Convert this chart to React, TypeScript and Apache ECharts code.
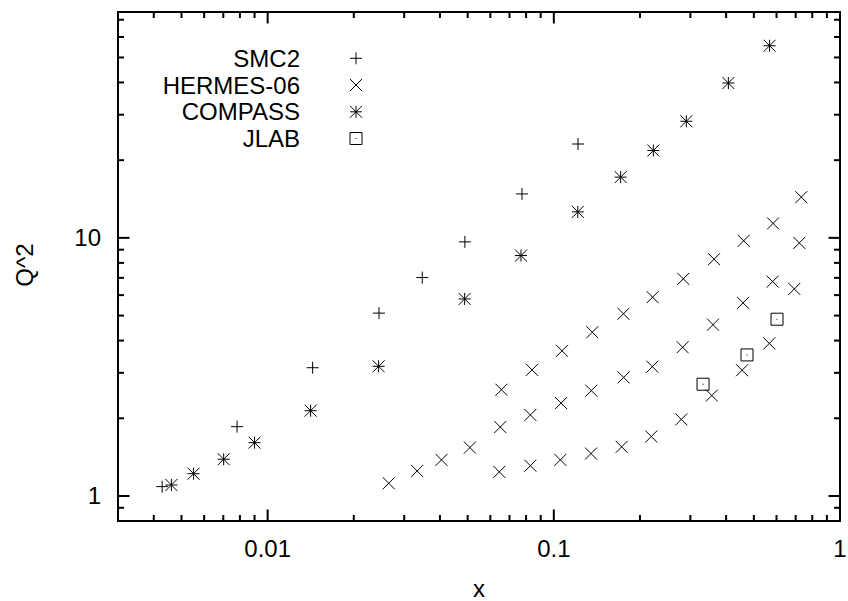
import React, { useEffect, useRef } from "react";
import * as echarts from "echarts";

// Kinematic coverage: (x, Q^2) of each data set
const smc2: [number, number][] = [
  [0.00428, 1.087], [0.00782, 1.856], [0.01436, 3.14], [0.0245, 5.11],
  [0.0347, 7.02], [0.0489, 9.65], [0.0774, 14.8], [0.1215, 23.1],
];

const hermes06: [number, number][] = [
  [0.0265, 1.12], [0.0333, 1.25], [0.0405, 1.38], [0.0509, 1.54],
  [0.0645, 1.24], [0.065, 1.85], [0.0656, 2.58],
  [0.0828, 1.31], [0.0828, 2.06], [0.0839, 3.08],
  [0.1054, 1.38], [0.106, 2.29], [0.1068, 3.65],
  [0.1349, 1.46], [0.1352, 2.56], [0.1363, 4.31],
  [0.1726, 1.55], [0.1754, 2.88], [0.1751, 5.08],
  [0.2191, 1.7], [0.2209, 3.17], [0.2214, 5.89],
  [0.2789, 1.98], [0.2818, 3.77], [0.2834, 6.94],
  [0.3565, 2.45], [0.36, 4.61], [0.3629, 8.27],
  [0.4547, 3.07], [0.4584, 5.6], [0.4606, 9.74],
  [0.5662, 3.9], [0.5817, 6.77], [0.5836, 11.38],
  [0.6923, 6.34], [0.7208, 9.56], [0.7325, 14.38],
];

const compass: [number, number][] = [
  [0.00461, 1.103], [0.00551, 1.22], [0.00702, 1.388], [0.009, 1.609],
  [0.01413, 2.14], [0.02442, 3.18], [0.0488, 5.8], [0.0768, 8.54],
  [0.1213, 12.61], [0.1712, 17.19], [0.2227, 21.8], [0.2904, 28.3],
  [0.4073, 39.8], [0.5675, 55.5],
];

const jlab: [number, number][] = [
  [0.3322, 2.71], [0.4732, 3.52], [0.6024, 4.84],
];

// Axis ranges and ticks
const xMin = 0.003;
const xMax = 1;
const yMin = 0.8;
const yMax = 75;
const xMajorTicks = [0.01, 0.1, 1];
const xMajorLabels = ["0.01", "0.1", "1"];
const xMinorTicks = [
  0.004, 0.005, 0.006, 0.007, 0.008, 0.009,
  0.02, 0.03, 0.04, 0.05, 0.06, 0.07, 0.08, 0.09,
  0.2, 0.3, 0.4, 0.5, 0.6, 0.7, 0.8, 0.9,
];
const yMajorTicks = [1, 10];
const yMajorLabels = ["1", "10"];
const yMinorTicks = [0.9, 2, 3, 4, 5, 6, 7, 8, 9, 20, 30, 40, 50, 60, 70];

const legendNames = ["SMC2", "HERMES-06", "COMPASS", "JLAB"];

const INK = "#000";
const FONT = '"Liberation Sans", Arial, Helvetica, sans-serif';
const MARK = 6;
const MAJOR_LEN = 11.5;
const MINOR_LEN = 6;

type Kind = "plus" | "cross" | "star" | "box";

const seg = (x1: number, y1: number, x2: number, y2: number, w = 1) => ({
  type: "line",
  shape: { x1, y1, x2, y2 },
  style: { stroke: INK, lineWidth: w },
});

const glyph = (kind: Kind, x: number, y: number, h: number): any[] => {
  const plus = [seg(x - h, y, x + h, y), seg(x, y - h, x, y + h)];
  const cross = [seg(x - h, y - h, x + h, y + h), seg(x - h, y + h, x + h, y - h)];
  if (kind === "plus") return plus;
  if (kind === "cross") return cross;
  if (kind === "star") return [...plus, ...cross];
  return [
    {
      type: "rect",
      shape: { x: x - h, y: y - h, width: 2 * h, height: 2 * h },
      style: { fill: "none", stroke: INK, lineWidth: 1 },
    },
    { type: "rect", shape: { x: x - 0.5, y: y - 0.5, width: 1, height: 1 }, style: { fill: INK } },
  ];
};

const markerSeries = (name: string, data: [number, number][], kind: Kind) => ({
  type: "custom",
  name,
  data,
  silent: true,
  renderItem: (_params: any, api: any) => {
    const p = api.coord([api.value(0), api.value(1)]);
    return { type: "group", children: glyph(kind, p[0], p[1], MARK) };
  },
});

const labelFor = (ticks: number[], labels: string[]) => (v: number) => {
  const i = ticks.findIndex((t) => Math.abs(Math.log10(v / t)) < 1e-6);
  return i >= 0 ? labels[i] : "";
};

export default function App() {
  const ref = useRef<HTMLDivElement>(null);

  useEffect(() => {
    if (!ref.current) return;
    const chart = echarts.init(ref.current, undefined, { renderer: "svg" });

    const xTickData = [
      ...xMajorTicks.map((v) => [v, 1, MAJOR_LEN]),
      ...xMinorTicks.map((v) => [v, 1, MINOR_LEN]),
    ];
    const yTickData = [
      ...yMajorTicks.map((v) => [0.1, v, MAJOR_LEN]),
      ...yMinorTicks.map((v) => [0.1, v, MINOR_LEN]),
    ];

    const legendX = 300;
    const symbolX = 356;
    const rowY = [58.3, 85, 111.8, 138.5];
    const kinds: Kind[] = ["plus", "cross", "star", "box"];

    const legendGraphics: any[] = [];
    legendNames.forEach((name, i) => {
      legendGraphics.push({
        type: "text",
        x: legendX,
        y: rowY[i],
        style: {
          text: name,
          fill: INK,
          fontSize: 24,
          fontFamily: FONT,
          align: "right",
          verticalAlign: "middle",
        },
      });
      legendGraphics.push({
        type: "group",
        children: glyph(kinds[i], symbolX, rowY[i], MARK),
      });
    });

    chart.setOption({
      animation: false,
      backgroundColor: "#fff",
      grid: {
        left: 118,
        right: 8,
        top: 12,
        bottom: 80,
        show: true,
        borderColor: INK,
        borderWidth: 2,
        backgroundColor: "transparent",
        outerBoundsMode: "none",
      },
      xAxis: {
        type: "log",
        logBase: 10,
        min: xMin,
        max: xMax,
        axisLine: { show: false },
        axisTick: { show: false },
        splitLine: { show: false },
        axisLabel: {
          color: INK,
          fontSize: 24,
          fontFamily: FONT,
          margin: 15,
          formatter: labelFor(xMajorTicks, xMajorLabels),
        },
      },
      yAxis: {
        type: "log",
        logBase: 10,
        min: yMin,
        max: yMax,
        axisLine: { show: false },
        axisTick: { show: false },
        splitLine: { show: false },
        axisLabel: {
          color: INK,
          fontSize: 24,
          fontFamily: FONT,
          margin: 17,
          formatter: labelFor(yMajorTicks, yMajorLabels),
        },
      },
      graphic: [
        ...legendGraphics,
        {
          type: "text",
          x: 479,
          y: 588.4,
          style: {
            text: "x",
            fill: INK,
            fontSize: 24,
            fontFamily: FONT,
            align: "center",
            verticalAlign: "middle",
          },
        },
        {
          type: "text",
          x: 24,
          y: 265,
          rotation: Math.PI / 2,
          style: {
            text: "Q^2",
            fill: INK,
            fontSize: 24,
            fontFamily: FONT,
            align: "center",
            verticalAlign: "middle",
          },
        },
      ],
      series: [
        {
          type: "custom",
          name: "x ticks",
          data: xTickData,
          silent: true,
          renderItem: (params: any, api: any) => {
            const cs = params.coordSys;
            const x = api.coord([api.value(0), api.value(1)])[0];
            const len = api.value(2);
            const bottom = cs.y + cs.height;
            return {
              type: "group",
              children: [seg(x, bottom, x, bottom - len, 2), seg(x, cs.y, x, cs.y + len, 2)],
            };
          },
        },
        {
          type: "custom",
          name: "y ticks",
          data: yTickData,
          silent: true,
          renderItem: (params: any, api: any) => {
            const cs = params.coordSys;
            const y = api.coord([api.value(0), api.value(1)])[1];
            const len = api.value(2);
            const right = cs.x + cs.width;
            return {
              type: "group",
              children: [seg(cs.x, y, cs.x + len, y, 2), seg(right, y, right - len, y, 2)],
            };
          },
        },
        markerSeries("SMC2", smc2, "plus"),
        markerSeries("HERMES-06", hermes06, "cross"),
        markerSeries("COMPASS", compass, "star"),
        markerSeries("JLAB", jlab, "box"),
      ],
    });

    return () => chart.dispose();
  }, []);

  return (
    <div
      ref={ref}
      style={{ position: "fixed", left: 0, top: 0, width: 848, height: 601, background: "#fff" }}
    />
  );
}
